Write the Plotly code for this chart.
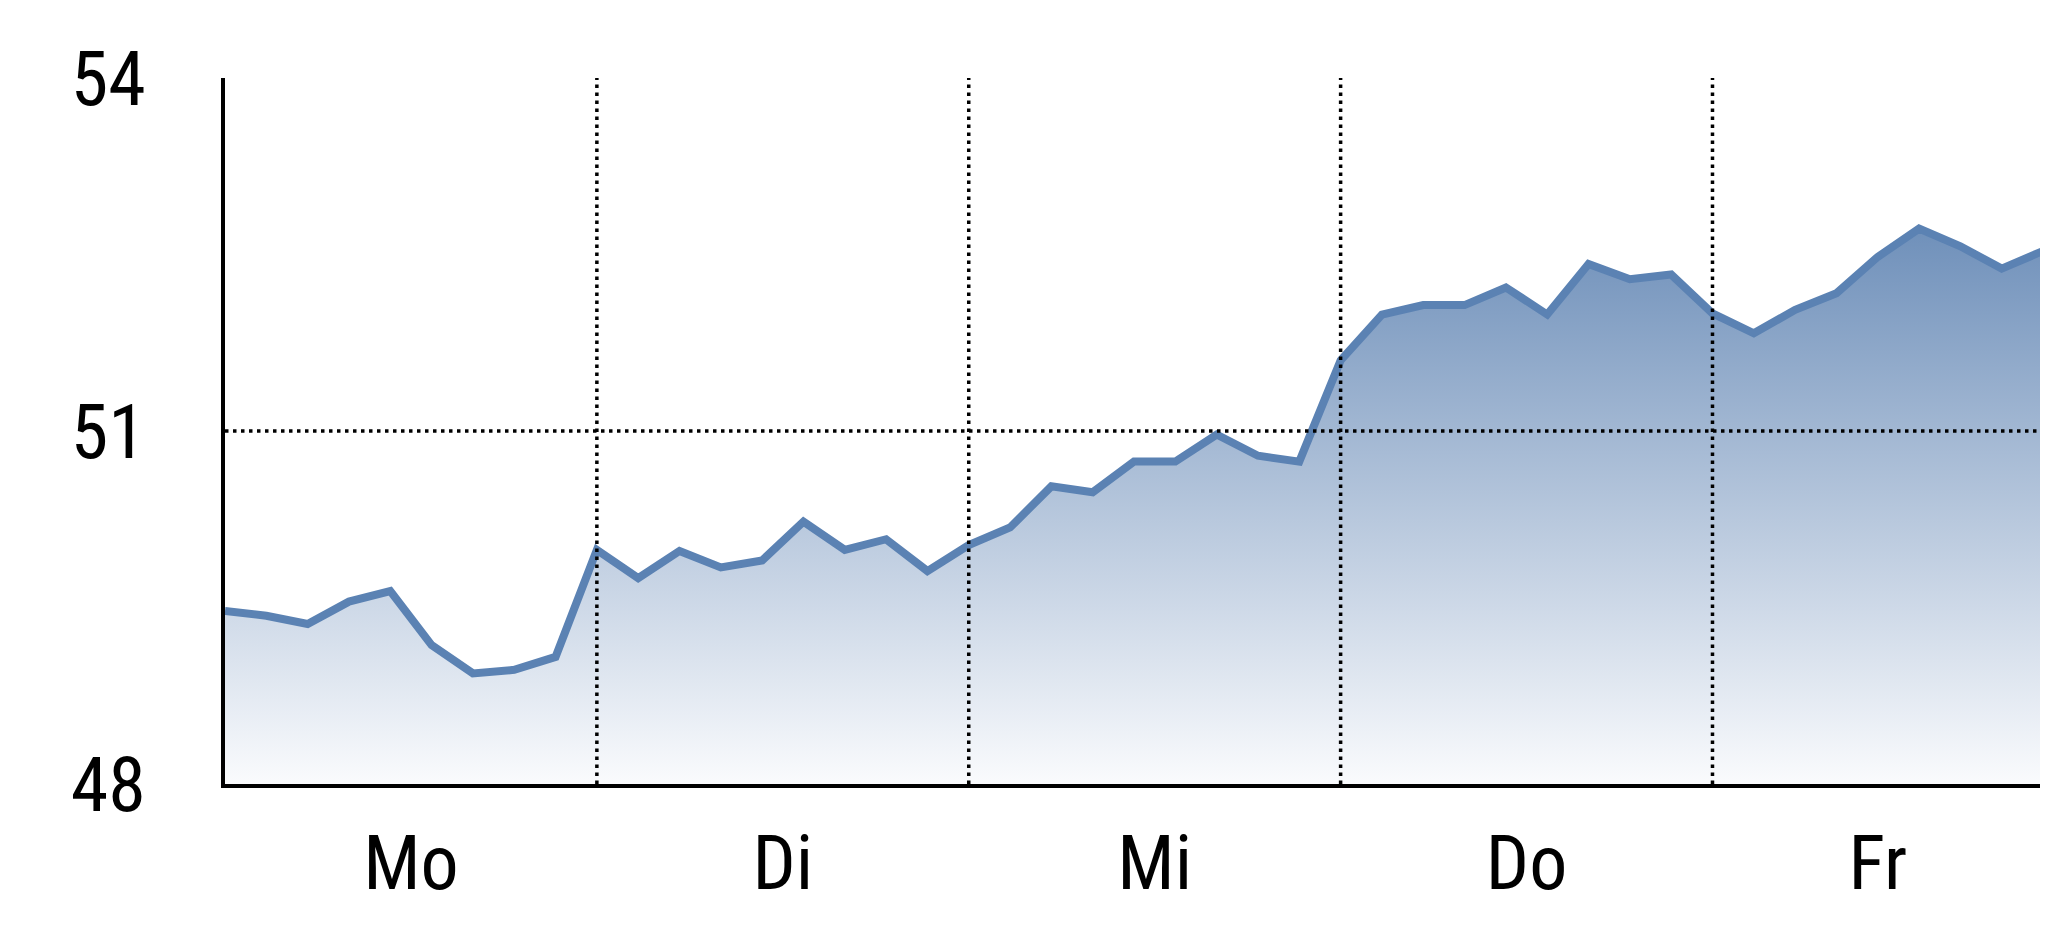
import plotly.graph_objects as go

# --- data ---
days = ["Mo", "Di", "Mi", "Do", "Fr"]
mo = [49.47, 49.43, 49.36, 49.55, 49.64, 49.18, 48.94, 48.97, 49.08]
di = [49.99, 49.75, 49.98, 49.84, 49.90, 50.23, 49.99, 50.08, 49.81]
mi = [50.03, 50.18, 50.53, 50.48, 50.74, 50.74, 50.97, 50.79, 50.74]
do_ = [51.60, 51.99, 52.07, 52.07, 52.22, 51.99, 52.42, 52.29, 52.33]
fr = [52.00, 51.83, 52.03, 52.17, 52.48, 52.72, 52.57, 52.38, 52.53]
day_label_pos = [4.5, 13.5, 22.5, 31.5, 40]
day_boundaries = [9, 18, 27, 36]
y_ticks = [48, 51, 54]
y_grid = [51]

values = mo + di + mi + do_ + fr
x = list(range(len(values)))

FONT = "Roboto Condensed, Archivo Narrow, Liberation Sans Narrow, Liberation Sans, Arial, sans-serif"
Y_MIN, Y_MAX = y_ticks[0], y_ticks[-1]
X_MAX = 44.12

fig = go.Figure()
fig.add_trace(go.Scatter(
    x=x, y=values, mode="lines",
    line=dict(color="#5b82b3", width=8),
    fill="tozeroy",
    fillgradient=dict(type="vertical",
                      colorscale=[[0, "#fafbfd"], [1, "#6f90ba"]],
                      start=Y_MIN, stop=max(values)),
    hoverinfo="skip",
))

dot = dict(color="black", width=3.5, dash="3.5px,4.5px")
for b in day_boundaries:
    fig.add_shape(type="line", xref="x", yref="y", x0=b, x1=b,
                  y0=Y_MIN, y1=Y_MAX, line=dot, layer="above")
for g in y_grid:
    fig.add_shape(type="line", xref="x", yref="y", x0=0, x1=x[-1] + 0.05,
                  y0=g, y1=g, line=dot, layer="above")

# page body has an 8px margin, so the figure is sized/margined to compensate
fig.update_layout(
    width=2040, height=929,
    margin=dict(l=217, r=0, t=70, b=153),
    paper_bgcolor="white", plot_bgcolor="white",
    showlegend=False,
    font=dict(family=FONT, size=76, color="black"),
)
fig.update_xaxes(
    range=[0, X_MAX], automargin=False,
    tickmode="array", tickvals=day_label_pos, ticktext=days,
    showgrid=False, zeroline=False,
    showline=True, linecolor="black", linewidth=4,
    ticks="", ticklabelstandoff=10,
)
fig.update_yaxes(
    range=[Y_MIN, Y_MAX], automargin=False,
    tickmode="array", tickvals=y_ticks, ticktext=[str(v) for v in y_ticks],
    showgrid=False, zeroline=False,
    showline=True, linecolor="black", linewidth=4,
    ticks="", ticklabelstandoff=60,
)

fig.write_html("out.html", config={"displayModeBar": False})
